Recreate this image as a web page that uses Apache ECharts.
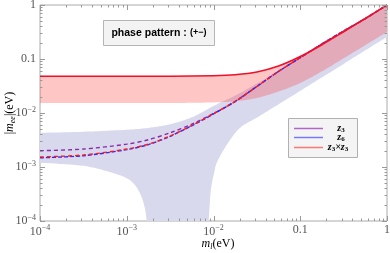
<!DOCTYPE html>
<html><head><meta charset="utf-8">
<script src="https://cdn.jsdelivr.net/npm/echarts@6/dist/echarts.min.js"></script>
<style>html,body{margin:0;padding:0;background:#fff}#c{width:390px;height:253px}</style>
</head><body><div id="c"></div>
<script>
// ---- data ----
const xTickVals = [1e-4, 1e-3, 1e-2, 0.1, 1];
const yTickVals = [1e-4, 1e-3, 1e-2, 0.1, 1];

// inverted-type band (red)
const ihM   = [1e-4, 3.16e-4, 1e-3, 3.16e-3, 0.01, 0.0178, 0.0316, 0.0562, 0.1, 0.178, 0.316, 0.562, 1];
const ihMax = [0.048, 0.048, 0.048, 0.048, 0.049, 0.0512, 0.0575, 0.074, 0.111, 0.184, 0.32, 0.562, 1.0];
const ihMin = [0.0153, 0.0153, 0.0153, 0.0153, 0.0157, 0.0165, 0.019, 0.025, 0.036, 0.059, 0.103, 0.18, 0.316];

// normal-type band (lavender)
const nhUpM  = [1e-4, 3.16e-4, 1e-3, 1.78e-3, 3.16e-3, 5.62e-3, 0.01, 0.0178, 0.0316, 0.0562, 0.1, 0.178, 0.316, 0.562, 1];
const nhMax  = [4.3e-3, 4.5e-3, 4.9e-3, 5.3e-3, 6.2e-3, 8.3e-3, 0.0135, 0.021, 0.035, 0.06, 0.105, 0.18, 0.32, 0.56, 1.0];
const nhLowLeftM  = [1e-4, 3.16e-4, 6.3e-4, 1e-3, 1.26e-3, 1.48e-3, 1.62e-3, 1.7e-3];
const nhLowLeftV  = [1.2e-3, 1.05e-3, 8.1e-4, 6.2e-4, 4.5e-4, 2.8e-4, 1.7e-4, 1e-4];
const nhLowRightM = [8.8e-3, 9.2e-3, 9.5e-3, 1.02e-2, 1.1e-2, 1.43e-2, 2.02e-2, 3.16e-2, 4.14e-2, 7.6e-2, 0.14, 0.316, 0.562, 1];
const nhLowRightV = [1e-4, 3.0e-4, 4.6e-4, 8e-4, 1.24e-3, 2.6e-3, 5.3e-3, 8.2e-3, 1.07e-2, 1.95e-2, 3.6e-2, 8.1e-2, 0.145, 0.255];

// prediction curves
const lineM = [1e-4, 3.16e-4, 1e-3, 1.78e-3, 3.16e-3, 5.62e-3, 0.01, 0.0178, 0.0316, 0.0562, 0.1, 0.178, 0.316, 0.562, 1];
const z3    = [2.0e-3, 2.15e-3, 2.65e-3, 3.2e-3, 4.3e-3, 6.2e-3, 0.0098, 0.0165, 0.031, 0.059, 0.106, 0.19, 0.33, 0.56, 1.0];
const z6    = [1.48e-3, 1.62e-3, 2.1e-3, 2.6e-3, 3.7e-3, 5.8e-3, 0.0096, 0.0163, 0.031, 0.059, 0.106, 0.19, 0.33, 0.56, 1.0];
const z3z3  = [1.53e-3, 1.67e-3, 2.15e-3, 2.65e-3, 3.75e-3, 5.9e-3, 0.0097, 0.0164, 0.031, 0.059, 0.106, 0.19, 0.33, 0.56, 1.0];

// ---- helpers ----
function pairs(xs, ys) { return xs.map((x, i) => [x, ys[i]]); }
function catmull(pts) {
  const out = [pts[0]];
  const N = 10;
  for (let i = 0; i < pts.length - 1; i++) {
    const p0 = pts[Math.max(i - 1, 0)], p1 = pts[i], p2 = pts[i + 1], p3 = pts[Math.min(i + 2, pts.length - 1)];
    const c1 = [p1[0] + (p2[0] - p0[0]) / 6, p1[1] + (p2[1] - p0[1]) / 6];
    const c2 = [p2[0] - (p3[0] - p1[0]) / 6, p2[1] - (p3[1] - p1[1]) / 6];
    for (let k = 1; k <= N; k++) {
      const t = k / N, u = 1 - t;
      out.push([
        u*u*u*p1[0] + 3*u*u*t*c1[0] + 3*u*t*t*c2[0] + t*t*t*p2[0],
        u*u*u*p1[1] + 3*u*u*t*c1[1] + 3*u*t*t*c2[1] + t*t*t*p2[1]
      ]);
    }
  }
  return out;
}
function bandSeries(edges, color, z) {
  return {
    type: 'custom', coordinateSystem: 'cartesian2d', clip: true, silent: true, z: z,
    data: [[edges[0][0][0], edges[0][0][1]]],
    renderItem: function (params, api) {
      let pts = [];
      edges.forEach(e => { pts = pts.concat(catmull(e.map(p => api.coord(p)))); });
      return { type: 'polygon', shape: { points: pts }, style: { fill: color } };
    }
  };
}
function minorList() {
  const arr = [];
  for (let d = -4; d < 0; d++) for (let k = 2; k <= 9; k++) arr.push(k * Math.pow(10, d));
  return arr;
}
const minorVals = minorList();

const axisFont = 'Liberation Serif';
const txtCol = '#555';
const labelRich = {
  b: { fontFamily: axisFont, fontSize: 12, color: txtCol },
  s: { fontFamily: axisFont, fontSize: 8, color: txtCol, padding: [0, 0, 7, 0] }
};
function fmtLabel(v) {
  const e = Math.round(Math.log10(v));
  if (e === 0) return '{b|1}';
  if (e === -1) return '{b|0.1}';
  return '{b|10}{s|\u2212' + (-e) + '}';
}

const chart = echarts.init(document.getElementById('c'), null, { renderer: 'canvas' });

const nhEdges = [
  pairs(nhUpM, nhMax),
  pairs(nhLowRightM, nhLowRightV).reverse(),
  pairs(nhLowLeftM, nhLowLeftV).reverse()
];
const ihEdges = [pairs(ihM, ihMax), pairs(ihM, ihMin).reverse()];

const tickColor = '#999';
function tl(x1, y1, x2, y2) {
  return { type: 'line', shape: { x1: x1, y1: y1, x2: x2, y2: y2 }, style: { stroke: tickColor, lineWidth: 1 } };
}

chart.setOption({
  animation: false,
  grid: { left: 40, right: 3, top: 5, bottom: 32, show: true, borderColor: '#aaa', borderWidth: 1, backgroundColor: 'transparent', outerBoundsMode: 'none' },
  xAxis: {
    type: 'log', logBase: 10, min: 1e-4, max: 1, splitNumber: 4,
    axisLine: { show: false }, axisTick: { show: false }, splitLine: { show: false },
    axisLabel: { formatter: fmtLabel, rich: labelRich, margin: 3, showMinLabel: true, showMaxLabel: true, hideOverlap: false }
  },
  yAxis: {
    type: 'log', logBase: 10, min: 1e-4, max: 1, splitNumber: 4,
    axisLine: { show: false }, axisTick: { show: false }, splitLine: { show: false },
    axisLabel: { formatter: fmtLabel, rich: labelRich, margin: 4, showMinLabel: true, showMaxLabel: true, hideOverlap: false }
  },
  series: [
    bandSeries(nhEdges, '#d9d9ee', 1),
    bandSeries(ihEdges, 'rgba(255,45,45,0.27)', 2),
    { name: 'z3', type: 'line', data: pairs(lineM, z3), smooth: 0.3, symbol: 'none', z: 4,
      lineStyle: { color: '#8a2aa8', width: 1.4, type: [4, 3] } },
    { name: 'z6', type: 'line', data: pairs(lineM, z6), smooth: 0.3, symbol: 'none', z: 5,
      lineStyle: { color: '#2a2aff', width: 1.4, type: [4, 2] } },
    { name: 'z3xz3', type: 'line', data: pairs(lineM, z3z3), smooth: 0.3, symbol: 'none', z: 6,
      lineStyle: { color: '#ff1a1a', width: 1.4, type: [4, 3] } },
    { name: 'ihTop', type: 'line', data: pairs(ihM, ihMax), smooth: 0.3, symbol: 'none', z: 7,
      lineStyle: { color: '#f0102a', width: 1.6 } },
    { type: 'custom', coordinateSystem: 'cartesian2d', silent: true, z: 8, clip: false,
      data: [[1e-4, 1e-4]],
      renderItem: function (params, api) {
        const cs = params.coordSys;
        const x0 = cs.x, x1 = cs.x + cs.width, y0 = cs.y, y1 = cs.y + cs.height;
        const ch = [];
        xTickVals.forEach(v => { const px = Math.round(api.coord([v, 1e-4])[0]) + 0.5; ch.push(tl(px, y1, px, y1 - 5)); ch.push(tl(px, y0, px, y0 + 5)); });
        yTickVals.forEach(v => { const py = Math.round(api.coord([1e-4, v])[1]) + 0.5; ch.push(tl(x0, py, x0 + 5, py)); ch.push(tl(x1, py, x1 - 5, py)); });
        minorVals.forEach(v => {
          const px = Math.round(api.coord([v, 1e-4])[0]) + 0.5; ch.push(tl(px, y1, px, y1 - 2.5)); ch.push(tl(px, y0, px, y0 + 2.5));
          const py = Math.round(api.coord([1e-4, v])[1]) + 0.5; ch.push(tl(x0, py, x0 + 2.5, py)); ch.push(tl(x1, py, x1 - 2.5, py));
        });
        return { type: 'group', children: ch };
      } }
  ],
  graphic: [
    { type: 'text', x: 218, y: 244, style: {
        text: '{i|m}{sub|l}{n|(eV)}', textAlign: 'center', textVerticalAlign: 'middle',
        rich: { i: { fontFamily: axisFont, fontStyle: 'italic', fontSize: 12, color: txtCol },
                sub: { fontFamily: axisFont, fontStyle: 'italic', fontSize: 8, color: txtCol, padding: [6, 0, 0, 0] },
                n: { fontFamily: axisFont, fontSize: 12, color: txtCol } } } },
    { type: 'text', x: 10, y: 113, rotation: Math.PI / 2, style: {
        text: '{n||}{i|m}{sub|ee}{n||(eV)}', textAlign: 'center', textVerticalAlign: 'middle',
        rich: { i: { fontFamily: axisFont, fontStyle: 'italic', fontSize: 12, color: txtCol },
                sub: { fontFamily: axisFont, fontStyle: 'italic', fontSize: 8, color: txtCol, padding: [6, 0, 0, 0] },
                n: { fontFamily: axisFont, fontSize: 12, color: txtCol } } } },
    { type: 'rect', shape: { x: 103.5, y: 20.5, width: 111, height: 25 }, style: { fill: '#f3f3f3', stroke: '#b5b5b5', lineWidth: 1 }, z: 50 },
    { type: 'text', x: 159, y: 33, z: 51, style: {
        text: '{a|phase pattern :} {b|(+\u2212)}', textAlign: 'center', textVerticalAlign: 'middle',
        rich: { a: { fontFamily: 'Liberation Sans', fontWeight: 'bold', fontSize: 10.5, color: '#111' },
                b: { fontFamily: 'Liberation Sans', fontWeight: 'bold', fontSize: 9, color: '#111' } } } },
    { type: 'rect', shape: { x: 288.5, y: 118.5, width: 69, height: 39 }, style: { fill: '#f4f4f4', stroke: '#b0b0b0', lineWidth: 1 }, z: 50 },
    { type: 'line', shape: { x1: 294, y1: 128.5, x2: 323, y2: 128.5 }, style: { stroke: '#b068c8', lineWidth: 1.5 }, z: 51 },
    { type: 'line', shape: { x1: 294, y1: 137.5, x2: 323, y2: 137.5 }, style: { stroke: '#7878ff', lineWidth: 1.5 }, z: 51 },
    { type: 'line', shape: { x1: 294, y1: 147.5, x2: 323, y2: 147.5 }, style: { stroke: '#ff7878', lineWidth: 1.5 }, z: 51 },
    { type: 'text', x: 341, y: 128, z: 51, style: { text: '{i|z}{s|3}', textAlign: 'center', textVerticalAlign: 'middle',
        rich: { i: { fontFamily: axisFont, fontStyle: 'italic', fontWeight: 'bold', fontSize: 10, color: '#9030b0' },
                s: { fontFamily: axisFont, fontWeight: 'bold', fontSize: 7, color: '#9030b0', padding: [4, 0, 0, 0] } } } },
    { type: 'text', x: 341, y: 137.5, z: 51, style: { text: '{i|z}{s|6}', textAlign: 'center', textVerticalAlign: 'middle',
        rich: { i: { fontFamily: axisFont, fontStyle: 'italic', fontWeight: 'bold', fontSize: 10, color: '#3535ff' },
                s: { fontFamily: axisFont, fontWeight: 'bold', fontSize: 7, color: '#3535ff', padding: [4, 0, 0, 0] } } } },
    { type: 'text', x: 338, y: 147.5, z: 51, style: { text: '{i|z}{s|3}{i|\u00d7z}{s|3}', textAlign: 'center', textVerticalAlign: 'middle',
        rich: { i: { fontFamily: axisFont, fontStyle: 'italic', fontWeight: 'bold', fontSize: 10, color: '#ff2020' },
                s: { fontFamily: axisFont, fontWeight: 'bold', fontSize: 7, color: '#ff2020', padding: [4, 0, 0, 0] } } } }
  ]
});
</script></body></html>
